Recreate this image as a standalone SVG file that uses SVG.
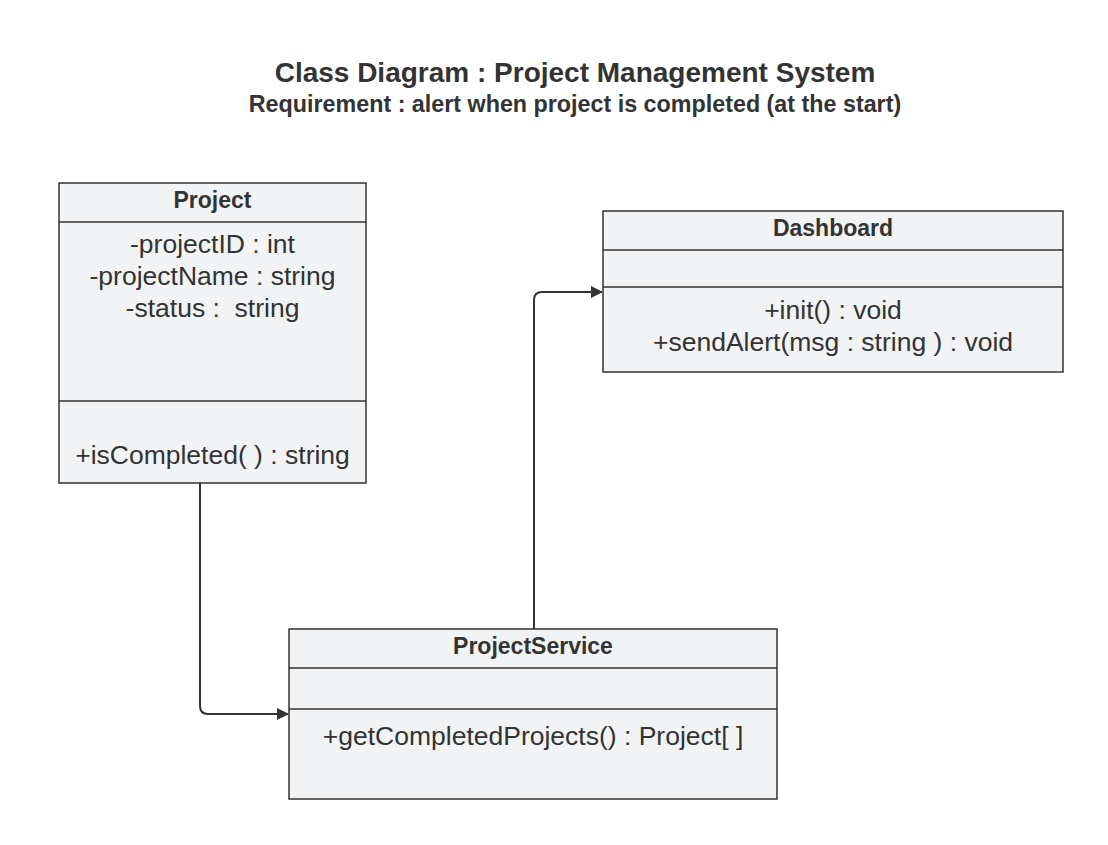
<svg xmlns="http://www.w3.org/2000/svg" width="1108" height="845" viewBox="0 0 1108 845">
<style>
.box{fill:#f2f3f5;stroke:#333;stroke-width:1.5}
.div{stroke:#333;stroke-width:1.5}
.t{font-family:"Liberation Sans",Arial,sans-serif;fill:#333;text-anchor:middle}
.h{font-weight:bold;font-size:23px}
.m{font-size:26.5px}
.conn{fill:none;stroke:#333;stroke-width:2}
</style>
<defs>
<marker id="arr" markerWidth="12" markerHeight="12" refX="11" refY="6" orient="auto" markerUnits="userSpaceOnUse">
<path d="M0,0 L12,6 L0,12 Z" fill="#333"/>
</marker>
</defs>
<rect width="1108" height="845" fill="#fff"/>
<g id="title">
<text class="t" x="575" y="82" font-weight="bold" font-size="28">Class Diagram : Project Management System</text>
<text class="t" x="575" y="112" font-weight="bold" font-size="23.3">Requirement : alert when project is completed (at the start)</text>
</g>
<g id="connectors">
<path class="conn" d="M200,483 V706 Q200,714 208,714 H288" marker-end="url(#arr)"/>
<path class="conn" d="M534,629 V300 Q534,292 542,292 H602" marker-end="url(#arr)"/>
</g>
<g id="Project">
<rect class="box" x="59" y="183" width="307" height="300"/>
<line class="div" x1="59" y1="222" x2="366" y2="222"/>
<line class="div" x1="59" y1="401" x2="366" y2="401"/>
<text class="t h" x="212.5" y="208">Project</text>
<text class="t m" x="212.5" y="253">-projectID : int</text>
<text class="t m" x="212.5" y="285">-projectName : string</text>
<text class="t m" x="212.5" y="317" xml:space="preserve">-status :  string</text>
<text class="t m" x="212.5" y="464">+isCompleted( ) : string</text>
</g>
<g id="Dashboard">
<rect class="box" x="603" y="211" width="460" height="161"/>
<line class="div" x1="603" y1="250" x2="1063" y2="250"/>
<line class="div" x1="603" y1="287" x2="1063" y2="287"/>
<text class="t h" x="833" y="236">Dashboard</text>
<text class="t m" x="833" y="319">+init() : void</text>
<text class="t m" x="833" y="351">+sendAlert(msg : string ) : void</text>
</g>
<g id="ProjectService">
<rect class="box" x="289" y="629" width="488" height="170"/>
<line class="div" x1="289" y1="668" x2="777" y2="668"/>
<line class="div" x1="289" y1="709" x2="777" y2="709"/>
<text class="t h" x="533" y="654">ProjectService</text>
<text class="t m" x="533" y="745">+getCompletedProjects() : Project[ ]</text>
</g>
</svg>
